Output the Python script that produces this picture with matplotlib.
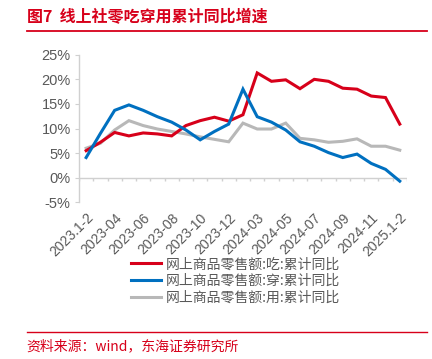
import matplotlib
matplotlib.use("Agg")
import matplotlib.pyplot as plt
from matplotlib.lines import Line2D

plt.rcParams['font.family'] = ['Liberation Sans', 'Noto Sans CJK SC', 'DejaVu Sans']

categories = ['2023.1-2', '2023-03', '2023-04', '2023-05', '2023-06', '2023-07', '2023-08',
              '2023-09', '2023-10', '2023-11', '2023-12', '2024.1-2', '2024-03', '2024-04',
              '2024-05', '2024-06', '2024-07', '2024-08', '2024-09', '2024-10', '2024-11',
              '2024-12', '2025.1-2']
eat = [5.5, 7.2, 9.2, 8.5, 9.1, 8.9, 8.5, 10.6, 11.6, 12.3, 11.5, 12.8, 21.3, 19.6,
       19.9, 18.1, 20.0, 19.6, 18.2, 18.0, 16.6, 16.3, 10.9]
wear = [4.1, 9.0, 13.7, 14.8, 13.7, 12.4, 11.3, 9.7, 7.7, 9.4, 10.9, 18.0, 12.4, 11.3,
        9.7, 7.3, 6.4, 5.1, 4.1, 4.8, 2.9, 1.7, -0.7]
use = [6.0, 7.0, 9.7, 11.6, 10.6, 9.9, 9.4, 8.9, 8.3, 7.8, 7.3, 11.1, 9.9, 9.9,
       11.1, 8.0, 7.7, 7.2, 7.4, 7.9, 6.4, 6.4, 5.6]
series_names = ['网上商品零售额:吃:累计同比', '网上商品零售额:穿:累计同比', '网上商品零售额:用:累计同比']
yticks = [-5, 0, 5, 10, 15, 20, 25]

RED = '#D7001A'
BLUE = '#0070C0'
GRAY = '#B8B8B8'
TXT = '#595959'
AX = '#D0D0D0'
LW = 2.2

fig = plt.figure(figsize=(4.32, 3.59), dpi=100)
ax = fig.add_axes([0.1829, 0.4365, 0.759, 0.411])

x = list(range(len(categories)))
ax.plot(x, eat, color=RED, lw=LW, label=series_names[0], solid_joinstyle='miter', zorder=3)
ax.plot(x, wear, color=BLUE, lw=LW, label=series_names[1], solid_joinstyle='miter', zorder=3)
ax.plot(x, use, color=GRAY, lw=LW, label=series_names[2], solid_joinstyle='miter', zorder=2)

ax.set_xlim(-0.5, len(categories) - 0.5)
ax.set_ylim(-5, 25)
ax.set_yticks(yticks)
ax.set_yticklabels([f'{v}%' for v in yticks], fontsize=10.5, color=TXT)
ax.tick_params(axis='y', length=3, color=AX, pad=3)

# zero line with category boundary ticks
ax.axhline(0, color=AX, lw=1, zorder=1)
bounds = [i - 0.5 for i in range(len(categories) + 1)]
ax.vlines(bounds, -0.7, 0, color=AX, lw=1, zorder=1)

lab_idx = list(range(0, len(categories), 2))
ax.set_xticks(lab_idx)
ax.set_xticklabels([categories[i] for i in lab_idx], rotation=45, ha='right',
                   rotation_mode='anchor', fontsize=10, color=TXT)
ax.tick_params(axis='x', length=0, pad=6)

for s in ['top', 'right', 'bottom']:
    ax.spines[s].set_visible(False)
ax.spines['left'].set_color(AX)
ax.spines['left'].set_linewidth(1)

handles = [Line2D([0], [0], color=c, lw=LW) for c in (RED, BLUE, GRAY)]
leg = fig.legend(handles, series_names, loc='center', bbox_to_anchor=(0.546, 0.217),
                 frameon=False, handlelength=2.1, handletextpad=0.4,
                 labelspacing=0.2, borderpad=0,
                 prop={'family': ['Noto Sans CJK SC', 'DejaVu Sans'], 'size': 10})
for t in leg.get_texts():
    t.set_color(TXT)

# title and footer
fig.text(0.062, 0.952, '图7  线上社零吃穿用累计同比增速', color=RED, fontsize=11.5,
         fontweight='bold', family=['Noto Sans CJK SC', 'DejaVu Sans'], va='center', ha='left')
fig.add_artist(Line2D([0.062, 0.988], [0.915, 0.915], color=RED, lw=1.3, transform=fig.transFigure))
fig.add_artist(Line2D([0.062, 0.988], [0.076, 0.076], color=RED, lw=1.0, transform=fig.transFigure))
fig.text(0.062, 0.036, '资料来源：wind，东海证券研究所', color=RED, fontsize=10,
         family=['Noto Sans CJK SC', 'DejaVu Sans'], va='center', ha='left')

fig.savefig('out.png', dpi=100, facecolor='white')
